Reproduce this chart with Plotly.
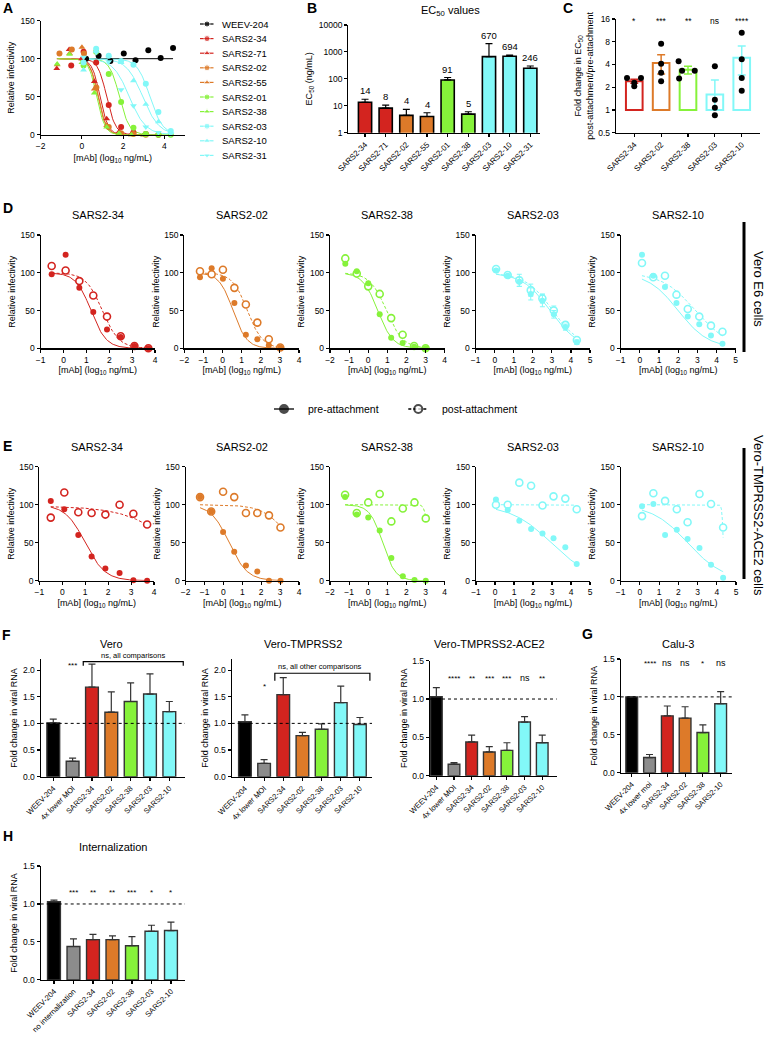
import numpy as np
import plotly.graph_objects as go

W, H = 767, 1040
FONT = "Liberation Sans, Arial, Helvetica, sans-serif"
RED = "#D3241F"
ORANGE = "#DD7A29"
GREEN = "#86F23A"
CYAN = "#82F8F8"
BLACK = "#000000"
GRAY = "#8C8C8C"

# ---------------- Panel A data ----------------
A_NAMES = ["WEEV-204", "SARS2-34", "SARS2-71", "SARS2-02", "SARS2-55",
           "SARS2-01", "SARS2-38", "SARS2-03", "SARS2-10", "SARS2-31"]
A_COLORS = [BLACK, RED, RED, ORANGE, ORANGE, GREEN, GREEN, CYAN, CYAN, CYAN]
A_SYMBOLS = ["circle", "circle", "triangle-up", "circle", "triangle-up",
             "circle", "triangle-up", "circle", "triangle-up", "triangle-down"]
A_X = [
    [0.2, 0.81, 1.38, 2.03, 2.6, 3.22, 3.82, 4.42],
    [-0.52, 0.08, 0.69, 1.3, 1.9, 2.5, 3.1, 3.71],
    [-1.22, -0.62, -0.02, 0.6, 1.2, 1.8, 2.4, 3.0],
    [-1.09, -0.49, 0.1, 0.7, 1.3, 1.9, 2.5, 3.1],
    [-1.2, -0.6, 0.0, 0.6, 1.2, 1.8, 2.4, 3.0],
    [0.08, 0.69, 1.3, 1.9, 2.5, 3.1, 3.71, 4.31],
    [-1.2, -0.6, 0.0, 0.6, 1.2, 1.8, 2.4, 3.0],
    [0.08, 0.69, 1.3, 1.9, 2.5, 3.1, 3.71, 4.31],
    [0.08, 0.69, 1.3, 1.9, 2.5, 3.1, 3.71, 4.31],
    [0.08, 0.69, 1.3, 1.9, 2.5, 3.1, 3.71, 4.31],
]
A_Y = [
    [100, 104, 97, 107, 98, 111, 101, 114],
    [91, 109, 95, 39, 10, 3, 1, 0],
    [87, 112, 100, 70, 21, 4, 1, 0],
    [107, 112, 107, 62, 10, 2, 1, 0],
    [92, 107, 115, 60, 12, 2, 0, 0],
    [91, 109, 80, 43, 9, 1, 0, 0],
    [93, 106, 95, 55, 10, 2, 0, 0],
    [95, 113, 104, 97, 92, 67, 30, 5],
    [85, 110, 104, 95, 71, 40, 17, 3],
    [102, 108, 96, 59, 38, 10, 3, 1],
]
A_TOP = [100, 100, 100, 100, 100, 100, 100, 100, 100, 100]
A_BOTTOM = [100, 0, 0, 0, 0, 0, 0, 0, 0, 0]
A_LOGEC50 = [1.0, 1.2, 0.88, 0.78, 0.8, 1.82, 0.72, 3.3, 2.95, 2.3]
A_HILL = [1.0, 2.0, 2.2, 2.2, 2.2, 1.8, 2.2, 1.4, 1.1, 1.1]

# ---------------- Panel B data ----------------
B_NAMES = ["SARS2-34", "SARS2-71", "SARS2-02", "SARS2-55", "SARS2-01",
           "SARS2-38", "SARS2-03", "SARS2-10", "SARS2-31"]
B_VALUES = [13.5, 8.2, 4.4, 4.0, 91, 4.9, 670, 694, 246]
B_ERR_TOP = [17.5, 10.5, 7.3, 5.5, 112, 6.0, 2050, 760, 300]
B_LABELS = ["14", "8", "4", "4", "91", "5", "670", "694", "246"]
B_COLORS = [RED, RED, ORANGE, ORANGE, GREEN, GREEN, CYAN, CYAN, CYAN]

# ---------------- Panel C data ----------------
C_NAMES = ["SARS2-34", "SARS2-02", "SARS2-38", "SARS2-03", "SARS2-10"]
C_COLORS = [RED, ORANGE, GREEN, CYAN, CYAN]
C_MEAN = [2.4, 4.2, 3.4, 1.6, 4.9]
C_ERR_HI = [2.55, 5.4, 3.8, 2.5, 7.0]
C_ERR_LO = [2.25, 3.0, 3.0, 1.0, 2.9]
C_POINTS = [
    [2.65, 2.65, 2.3, 2.06],
    [7.5, 4.1, 3.1, 2.4],
    [4.4, 3.3, 3.3, 2.6],
    [3.8, 1.37, 1.07, 0.85],
    [10.5, 4.7, 2.65, 1.8],
]
C_JITTER = [
    [-0.27, 0.25, 0.0, 0.0],
    [0.0, 0.0, 0.0, 0.0],
    [-0.35, -0.22, 0.25, -0.33],
    [0.0, 0.0, 0.0, 0.0],
    [0.0, 0.0, 0.0, 0.0],
]
C_STARS = ["*", "***", "**", "ns", "****"]

# ---------------- Panels D / E data ----------------
DE_TITLES = ["SARS2-34", "SARS2-02", "SARS2-38", "SARS2-03", "SARS2-10"]
DE_COLORS = [RED, ORANGE, GREEN, CYAN, CYAN]

D_X = [
    [-0.52, 0.09, 0.69, 1.3, 1.9, 2.5, 3.1, 3.71],
    [-1.18, -0.57, 0.02, 0.62, 1.22, 1.82, 2.42, 3.02],
    [-1.2, -0.6, 0.0, 0.6, 1.2, 1.8, 2.4, 3.0],
    [0.07, 0.68, 1.29, 1.89, 2.5, 3.1, 3.71, 4.31],
    [0.11, 0.7, 1.31, 1.91, 2.5, 3.1, 3.71, 4.31],
]
D_PRE = [
    [98, 124, 80, 48, 25, 15, 3, 0],
    [94, 106, 92, 60, 18, 12, 4, 1],
    [112, 102, 86, 45, 14, 7, 2, 0],
    [103, 96, 88, 72, 63, 45, 28, 8],
    [124, 96, 81, 60, 42, 32, 17, 6],
]
D_POST = [
    [109, 103, 89, 70, 42, 16, 3, 0],
    [102, 98, 104, 80, 58, 34, 12, 1],
    [119, 99, 82, 72, 40, 18, 3, 0],
    [105, 97, 90, 77, 66, 50, 31, 11],
    [113, 94, 96, 71, 52, 42, 30, 22],
]
D_PRE_ERR = [None, None, None, [2, 2, 6, 8, 8, 5, 4, 3], None]
D_POST_ERR = [None, None, None, [2, 2, 8, 8, 6, 6, 4, 2], None]
D_PRE_FIT = [(1.2, 1.3), (0.55, 1.2), (0.5, 1.1), (2.9, 0.6), (2.0, 0.55)]
D_POST_FIT = [(1.7, 1.2), (1.3, 1.1), (0.95, 1.0), (3.05, 0.6), (2.9, 0.5)]

E_X = [
    [-0.5, 0.09, 0.7, 1.28, 1.88, 2.5, 3.1, 3.7],
    [-1.24, -0.65, -0.02, 0.57, 1.19, 1.79, 2.41, 3.02],
    [-1.21, -0.6, 0.0, 0.6, 1.21, 1.81, 2.42, 3.01],
    [0.05, 0.67, 1.28, 1.9, 2.5, 3.08, 3.7, 4.3],
    [0.11, 0.7, 1.31, 1.92, 2.48, 3.1, 3.7, 4.33],
]
E_PRE = [
    [105, 94, 60, 32, 16, 10, 0.5, 0],
    [110, 91, 64, 38, 20, 12, 0, 0],
    [110, 87, 83, 66, 30, 6, 1, 0],
    [107, 93, 79, 68, 62, 56, 44, 22],
    [98, 101, 60, 67, 55, 43, 21, 4],
]
E_POST = [
    [83, 116, 90, 89, 87, 100, 88, 74],
    [110, 91, 117, 110, 89, 89, 86, 70],
    [113, 89, 103, 114, 78, 95, 103, 82],
    [100, 100, 129, 125, 99, 111, 108, 94],
    [85, 115, 105, 94, 77, 114, 101, 70],
]
E_PRE_FIT = [(100, 1.0, 1.0), (100, 0.3, 0.9), (100, 0.75, 1.3), (100, 2.95, 0.41), (100, 2.48, 0.47)]
E_POST_FIT = [(98, 4.9, 0.4), (100, 3.65, 0.63), (100, 3.15, 5.0), (100, 4.45, 8.0), (100, 4.34, 12.0)]

# ---------------- Panels F / G / H data ----------------
F_LABELS = ["WEEV-204", "4x lower MOI", "SARS2-34", "SARS2-02", "SARS2-38", "SARS2-03", "SARS2-10"]
F_COLORS = [BLACK, GRAY, RED, ORANGE, GREEN, CYAN, CYAN]
F1_MEAN = [1.01, 0.29, 1.68, 1.21, 1.41, 1.55, 1.22]
F1_ERR = [0.07, 0.06, 0.43, 0.38, 0.35, 0.38, 0.19]
F1_STARS = ["", "***", "", "", "", "", ""]
F2_MEAN = [1.03, 0.25, 1.54, 0.77, 0.89, 1.39, 0.98]
F2_ERR = [0.13, 0.07, 0.32, 0.06, 0.10, 0.31, 0.13]
F2_STARS = ["", "*", "", "", "", "", ""]
F3_MEAN = [1.03, 0.15, 0.44, 0.31, 0.33, 0.70, 0.43]
F3_ERR = [0.12, 0.02, 0.09, 0.07, 0.10, 0.07, 0.10]
F3_STARS = ["", "****", "**", "***", "***", "ns", "**"]
G_LABELS = ["WEEV-204", "4x lower moi", "SARS2-34", "SARS2-02", "SARS2-38", "SARS2-10"]
G_COLORS = [BLACK, GRAY, RED, ORANGE, GREEN, CYAN]
G_MEAN = [1.0, 0.20, 0.75, 0.72, 0.53, 0.91]
G_ERR = [0.0, 0.04, 0.13, 0.15, 0.10, 0.16]
G_STARS = ["", "****", "ns", "ns", "*", "ns"]
H_LABELS = ["WEEV-204", "no internalization", "SARS2-34", "SARS2-02", "SARS2-38", "SARS2-03", "SARS2-10"]
H_MEAN = [1.03, 0.44, 0.53, 0.53, 0.45, 0.64, 0.65]
H_ERR = [0.02, 0.10, 0.07, 0.05, 0.12, 0.08, 0.11]
H_STARS = ["", "***", "**", "**", "***", "*", "*"]

# =====================================================================
fig = go.Figure()
layout = {}
annotations = []
shapes = []
PX, PY = "x19", "y19"   # hidden full-page pixel axes used for text placement


def xdom(a, b):
    return [a / W, b / W]


def ydom(top, bottom):
    return [1 - bottom / H, 1 - top / H]


def refs(n):
    return ("x" if n == 1 else f"x{n}"), ("y" if n == 1 else f"y{n}")


def add_axes(n, xd, yd, xr, yr, xkw=None, ykw=None):
    base = dict(showline=True, linecolor="black", linewidth=1.2, ticks="outside",
                ticklen=3, tickwidth=1.1, tickcolor="black", showgrid=False,
                zeroline=False, tickfont=dict(size=8.5, family=FONT, color="black"))
    xa = dict(base, domain=xd, range=list(map(float, xr)), anchor=refs(n)[1])
    ya = dict(base, domain=yd, range=list(map(float, yr)), anchor=refs(n)[0])
    if xkw:
        xa.update(xkw)
    if ykw:
        ya.update(ykw)
    k = "" if n == 1 else str(n)
    layout[f"xaxis{k}"] = xa
    layout[f"yaxis{k}"] = ya


def ax_title(text, size=9, standoff=4):
    return dict(text=text, font=dict(size=size, family=FONT, color="black"), standoff=standoff)


def text_px(x, y, text, size=10, bold=False, xanchor="center", yanchor="middle", angle=0):
    annotations.append(dict(x=x, y=y, xref=PX, yref=PY, text=f"<b>{text}</b>" if bold else text,
                            showarrow=False, xanchor=xanchor, yanchor=yanchor, textangle=angle,
                            font=dict(size=size, family=FONT, color="black")))


def hill(xs, top, bottom, c, h):
    xs = np.asarray(xs, dtype=float)
    return bottom + (top - bottom) / (1 + 10 ** ((xs - c) * h))


MAB = "[mAb] (log<sub>10</sub> ng/mL)"

layout["xaxis19"] = dict(domain=[0, 1], range=[0, W], visible=False, anchor="y19", fixedrange=True)
layout["yaxis19"] = dict(domain=[0, 1], range=[H, 0], visible=False, anchor="x19", fixedrange=True)

# ---------------- Panel A ----------------
add_axes(1, xdom(40.7, 185), ydom(20.7, 134.7), [-2, 5], [0, 150],
         dict(tickvals=[-2, 0, 2, 4], title=ax_title(MAB)),
         dict(tickvals=[0, 50, 100, 150], title=ax_title("Relative infectivity")))
for i, name in enumerate(A_NAMES):
    xs = np.linspace(min(A_X[i]), max(A_X[i]), 100)
    fig.add_trace(go.Scatter(x=xs, y=hill(xs, A_TOP[i], A_BOTTOM[i], A_LOGEC50[i], A_HILL[i]),
                             mode="lines", line=dict(color=A_COLORS[i], width=1), xaxis="x", yaxis="y",
                             showlegend=False, hoverinfo="skip"))
for i, name in enumerate(A_NAMES):
    fig.add_trace(go.Scatter(x=A_X[i], y=A_Y[i], mode="markers", name=name,
                             marker=dict(color=A_COLORS[i], symbol=A_SYMBOLS[i], size=6),
                             xaxis="x", yaxis="y", showlegend=False, cliponaxis=False))

# legend for A
for i, name in enumerate(A_NAMES):
    yy = 24 + 14.6 * i
    fig.add_trace(go.Scatter(x=[200, 207, 213.5], y=[yy, yy, yy], mode="lines+markers",
                             line=dict(color=A_COLORS[i], width=1.2),
                             marker=dict(color=A_COLORS[i], symbol=A_SYMBOLS[i], size=[0, 6, 0]),
                             xaxis=PX, yaxis=PY, showlegend=False, hoverinfo="skip"))
    text_px(220, yy, name, size=9.5, xanchor="left")

# ---------------- Panel B ----------------
bx = list(range(len(B_NAMES)))
add_axes(2, xdom(348.3, 540), ydom(25, 132.7), [-0.81, 8.47], [0, 4],
         dict(tickvals=bx, ticktext=B_NAMES, tickangle=-45, tickfont=dict(size=8, family=FONT, color="black")),
         dict(type="log", tickvals=[1, 10, 100, 1000, 10000], ticktext=["1", "10", "100", "1000", "10000"],
              title=ax_title("EC<sub>50</sub> (ng/mL)")))
fig.add_trace(go.Bar(x=bx, y=B_VALUES, width=0.64, xaxis="x2", yaxis="y2",
                     marker=dict(color=B_COLORS, line=dict(color="black", width=1.6)),
                     error_y=dict(type="data", symmetric=False,
                                  array=[t - v for t, v in zip(B_ERR_TOP, B_VALUES)],
                                  arrayminus=[0] * len(B_VALUES), color="black", thickness=1.2, width=3.5),
                     showlegend=False))
for i, lab in enumerate(B_LABELS):
    annotations.append(dict(x=i, y=float(np.log10(B_ERR_TOP[i])), xref="x2", yref="y2", text=lab,
                            showarrow=False, yanchor="bottom", yshift=1,
                            font=dict(size=9.5, family=FONT, color="black")))
text_px(450, 11, "EC<sub>50</sub> values", size=11)

# ---------------- Panel C ----------------
cx = list(range(len(C_NAMES)))
add_axes(3, xdom(616, 760), ydom(19, 132.7), [-0.68, 4.68], [np.log10(0.5), np.log10(16)],
         dict(tickvals=cx, ticktext=C_NAMES, tickangle=-45, tickfont=dict(size=8, family=FONT, color="black")),
         dict(type="log", tickvals=[0.5, 1, 2, 4, 8, 16], ticktext=["0.5", "1", "2", "4", "8", "16"],
              title=ax_title("Fold change in EC<sub>50</sub><br>post-attachment/pre-attachment", size=9, standoff=3)))
fig.add_trace(go.Bar(x=cx, y=[m - 1 for m in C_MEAN], base=[1] * len(C_MEAN), width=0.62,
                     xaxis="x3", yaxis="y3",
                     marker=dict(color="white", line=dict(color=C_COLORS, width=2)), showlegend=False))
for i in cx:
    fig.add_trace(go.Scatter(x=[i], y=[C_MEAN[i]], mode="markers", marker=dict(size=1, color=C_COLORS[i], opacity=0),
                             error_y=dict(type="data", symmetric=False, array=[C_ERR_HI[i] - C_MEAN[i]],
                                          arrayminus=[C_MEAN[i] - C_ERR_LO[i]], color=C_COLORS[i],
                                          thickness=1.5, width=4),
                             xaxis="x3", yaxis="y3", showlegend=False, hoverinfo="skip"))
    fig.add_trace(go.Scatter(x=[i + j for j in C_JITTER[i]], y=C_POINTS[i], mode="markers",
                             marker=dict(size=6, color="black"), xaxis="x3", yaxis="y3",
                             showlegend=False, cliponaxis=False))
    annotations.append(dict(x=i, y=21, xref="x3", yref=PY, text=C_STARS[i], showarrow=False,
                            font=dict(size=8.5, family=FONT, color="black")))
shapes.append(dict(type="line", xref="x3 domain", yref="y3", x0=0, x1=1, y0=0, y1=0,
                   line=dict(color="black", width=2.5)))

# ---------------- Panels D and E ----------------
XDOMS_D = [(40.7, 155), (184.3, 299), (330, 444.7), (475.7, 590), (620.7, 735.7)]
XDOMS_E = [(39.3, 154), (185.7, 299), (330, 444.7), (476, 590), (620.7, 736)]
XRANGES = [[-1, 4], [-2, 4], [-2, 4], [-1, 5], [-1, 5]]


def dose_panel(n, xd, yd, xr, color, xs, pre, post, pre_curve, post_curve, pre_err=None, post_err=None):
    add_axes(n, xd, yd, xr, [0, 150],
             dict(dtick=1, title=ax_title(MAB, standoff=3)),
             dict(tickvals=[0, 50, 100, 150], title=ax_title("Relative infectivity", standoff=3)))
    xr_, yr_ = refs(n)
    xx = np.linspace(min(xs), max(xs), 100)
    fig.add_trace(go.Scatter(x=xx, y=pre_curve(xx), mode="lines", line=dict(color=color, width=1),
                             xaxis=xr_, yaxis=yr_, showlegend=False, hoverinfo="skip"))
    fig.add_trace(go.Scatter(x=xx, y=post_curve(xx), mode="lines", line=dict(color=color, width=1, dash="3px,2px"),
                             xaxis=xr_, yaxis=yr_, showlegend=False, hoverinfo="skip"))
    ekw_pre = dict(error_y=dict(type="data", array=pre_err, color=color, thickness=1, width=2.5)) if pre_err else {}
    ekw_post = dict(error_y=dict(type="data", array=post_err, color=color, thickness=1, width=2.5)) if post_err else {}
    fig.add_trace(go.Scatter(x=xs, y=post, mode="markers",
                             marker=dict(size=7, color="white", line=dict(color=color, width=1.6)),
                             xaxis=xr_, yaxis=yr_, showlegend=False, cliponaxis=False, **ekw_post))
    fig.add_trace(go.Scatter(x=xs, y=pre, mode="markers", marker=dict(size=6, color=color),
                             xaxis=xr_, yaxis=yr_, showlegend=False, cliponaxis=False, **ekw_pre))


for k in range(5):
    a, b = XDOMS_D[k]
    c1, h1 = D_PRE_FIT[k]
    c2, h2 = D_POST_FIT[k]
    dose_panel(4 + k, xdom(a, b), ydom(235, 348.3), XRANGES[k], DE_COLORS[k], D_X[k], D_PRE[k], D_POST[k],
               lambda x, c=c1, h=h1: hill(x, 100, 0, c, h), lambda x, c=c2, h=h2: hill(x, 100, 0, c, h),
               D_PRE_ERR[k], D_POST_ERR[k])
    text_px((a + b) / 2, 215, DE_TITLES[k], size=11)

    a, b = XDOMS_E[k]
    t1, c1, h1 = E_PRE_FIT[k]
    t2, c2, h2 = E_POST_FIT[k]
    dose_panel(9 + k, xdom(a, b), ydom(466.7, 580.7), XRANGES[k], DE_COLORS[k], E_X[k], E_PRE[k], E_POST[k],
               lambda x, t=t1, c=c1, h=h1: hill(x, t, 0, c, h), lambda x, t=t2, c=c2, h=h2: hill(x, t, 0, c, h))
    text_px((a + b) / 2, 447.3, DE_TITLES[k], size=11)

# pre / post legend
LEG_ITEMS = ["pre-attachment", "post-attachment"]
LEG_X = [284, 418.3]
for i, lab in enumerate(LEG_ITEMS):
    cx0 = LEG_X[i]
    fig.add_trace(go.Scatter(x=[cx0 - 10, cx0, cx0 + 10], y=[409, 409, 409], mode="lines+markers",
                             line=dict(color="black", width=1.3, dash="solid" if i == 0 else "3px,2px"),
                             marker=dict(size=[0, 8, 0], color="black" if i == 0 else "white",
                                         line=dict(color="black", width=2)),
                             xaxis=PX, yaxis=PY, showlegend=False, hoverinfo="skip"))
    text_px(cx0 + 22, 409, lab, size=10.5, xanchor="left")

# right-side labels and bars
shapes.append(dict(type="line", xref="paper", yref="paper", x0=744 / W, x1=744 / W, y0=1 - 222 / H, y1=1 - 352 / H,
                   line=dict(color="black", width=3)))
shapes.append(dict(type="line", xref="paper", yref="paper", x0=744 / W, x1=744 / W, y0=1 - 448 / H, y1=1 - 579 / H,
                   line=dict(color="black", width=3)))
text_px(759, 289, "Vero E6 cells", size=13, angle=90)
text_px(759, 515, "Vero-TMPRSS2-ACE2 cells", size=13, angle=90)


# ---------------- Panels F, G, H ----------------
def bar_panel(n, xd, yd, xr, yr, labels, colors, means, errs, stars, star_y, yticks):
    xs = list(range(len(labels)))
    add_axes(n, xd, yd, xr, yr,
             dict(tickvals=xs, ticktext=labels, tickangle=-45, ticklen=3,
                  tickfont=dict(size=7.6, family=FONT, color="black")),
             dict(tickvals=yticks, ticktext=[f"{v:.1f}" for v in yticks],
                  title=ax_title("Fold change in viral RNA", standoff=3)))
    xr_, yr_ = refs(n)
    shapes.append(dict(type="line", xref=f"{xr_} domain", yref=yr_, x0=0, x1=1, y0=1, y1=1,
                       line=dict(color="black", width=1, dash="dot")))
    fig.add_trace(go.Bar(x=xs, y=means, width=0.66, xaxis=xr_, yaxis=yr_,
                         marker=dict(color=colors, line=dict(color="#333333", width=1.4)),
                         error_y=dict(type="data", symmetric=False, array=errs, arrayminus=[0] * len(errs),
                                      color="#333333", thickness=1.2, width=3.5),
                         showlegend=False))
    for i, s in enumerate(stars):
        if s:
            annotations.append(dict(x=i, y=star_y, xref=xr_, yref=PY, text=s, showarrow=False,
                                    font=dict(size=8 if s != "ns" else 9, family=FONT, color="black")))


bar_panel(14, xdom(40.7, 185), ydom(659.4, 776.7), [-0.65, 6.81], [0, 2.2], F_LABELS, F_COLORS, F1_MEAN, F1_ERR,
          F1_STARS, 665, [0, 0.5, 1.0, 1.5, 2.0])
bar_panel(15, xdom(231.7, 372), ydom(659.4, 776.7), [-0.69, 6.63], [0, 2.2], F_LABELS, F_COLORS, F2_MEAN, F2_ERR,
          F2_STARS, 686, [0, 0.5, 1.0, 1.5, 2.0])
bar_panel(16, xdom(430, 556.7), ydom(660.7, 775.7), [-0.36, 6.82], [0, 1.5], F_LABELS, F_COLORS, F3_MEAN, F3_ERR,
          F3_STARS, 678.3, [0, 0.5, 1.0, 1.5])
bar_panel(17, xdom(620.7, 731.7), ydom(659, 772.7), [-0.62, 5.62], [0, 1.5], G_LABELS, G_COLORS, G_MEAN, G_ERR,
          G_STARS, 663.3, [0, 0.5, 1.0, 1.5])
bar_panel(18, xdom(40.7, 185), ydom(866, 979.9), [-0.68, 6.72], [0, 1.5], H_LABELS, F_COLORS, H_MEAN, H_ERR,
          H_STARS, 892.7, [0, 0.5, 1.0, 1.5])

# brackets in F
BRACKETS = {14: (1.55, 6.72, 2.16, 2.08), 15: (1.56, 6.52, 1.94, 1.80)}
for n, (x0, x1, ytop, ylow) in BRACKETS.items():
    shapes.append(dict(type="path", xref=f"x{n}", yref=f"y{n}",
                       path=f"M {x0},{ylow} L {x0},{ytop} L {x1},{ytop} L {x1},{ylow}",
                       line=dict(color="black", width=1.2)))
text_px(133, 655, "ns, all comparisons", size=7.5)
text_px(320, 666.7, "ns, all other comparisons", size=7.5)

text_px(111.7, 644, "Vero", size=11)
text_px(302.5, 644, "Vero-TMPRSS2", size=11)
text_px(489, 644, "Vero-TMPRSS2-ACE2", size=11)
text_px(677.5, 644, "Calu-3", size=11)
text_px(113, 847.3, "Internalization", size=11)

# panel letters
LETTERS = {"A": (8, 8), "B": (312, 8), "C": (567.5, 8), "D": (7.5, 208), "E": (7, 445.5),
           "F": (6.5, 634.5), "G": (587.5, 634), "H": (7.5, 836)}
for lab, (px, py) in LETTERS.items():
    text_px(px, py, lab, size=14, bold=True)

fig.update_layout(**layout)
fig.update_layout(width=W, height=H, margin=dict(l=0, r=0, t=0, b=0, autoexpand=False),
                  paper_bgcolor="white", plot_bgcolor="rgba(0,0,0,0)", showlegend=False,
                  annotations=annotations, shapes=shapes, hovermode=False,
                  font=dict(family=FONT, color="black"), barmode="overlay")
fig.write_html("out.html", config={"displayModeBar": False, "staticPlot": True},
               post_script="document.body.style.margin='0px';document.body.style.padding='0px';")
